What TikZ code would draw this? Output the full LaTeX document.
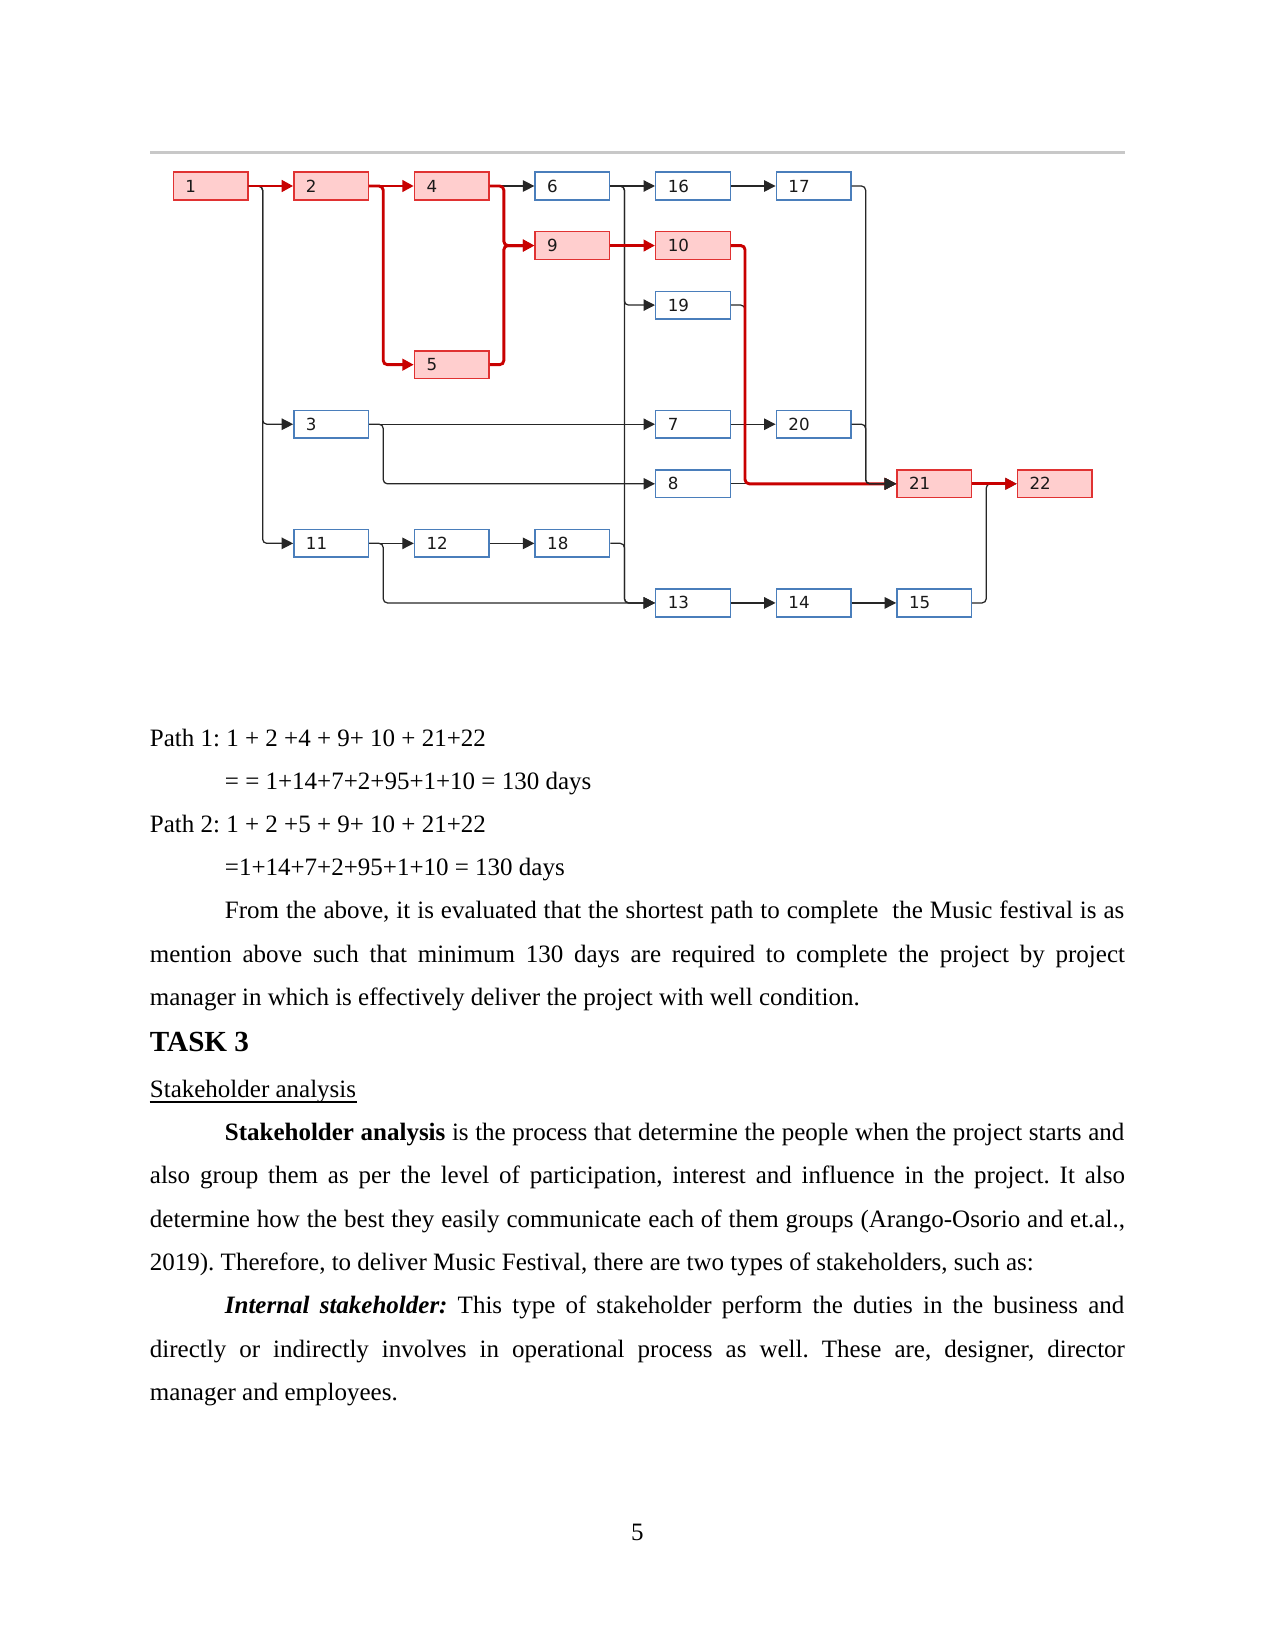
\documentclass[tikz,border=0pt]{standalone}
\usepackage{fontspec}
\setmainfont{Liberation Serif}
\newfontfamily\boxfont{DejaVu Sans}
\usetikzlibrary{arrows.meta,positioning}
\definecolor{critred}{RGB}{200,0,0}
\definecolor{critfill}{RGB}{255,206,206}
\definecolor{critedge}{RGB}{224,50,50}
\definecolor{taskblue}{RGB}{74,126,187}
\definecolor{rulegray}{RGB}{200,200,200}
\frenchspacing

\tikzset{
  task/.style={draw=taskblue, fill=white, line width=0.7pt,
    minimum width=35.8pt, minimum height=13.3pt, inner xsep=5.8pt, inner ysep=0pt,
    text width=24.2pt, align=left, text height=5.8pt, text depth=0pt,
    font=\boxfont\fontsize{8}{9}\selectfont, text=black!90},
  crit/.style={task, draw=critedge, fill=critfill},
  link/.style={color=black!85, line width=0.6pt, rounded corners=2pt,
    -{Triangle[length=5.5pt,width=5.5pt]}},
  critlink/.style={link, color=critred, line width=1.4pt},
  body/.style={anchor=base west, inner sep=0pt, font=\fontsize{12}{14}\selectfont}
}

\begin{document}
\begin{tikzpicture}[x=0.48pt,y=-0.48pt]
\useasboundingbox (0,0) rectangle (1275,1651);

\draw[rulegray, line width=1.5pt] (150,152.7) -- (1125,152.7);

% network
\foreach \i/\c/\r in {6/3/0,16/4/0,17/5/0,19/4/2,3/1/4,7/4/4,20/5/4,8/4/5,
                      11/1/6,12/2/6,18/3/6,13/4/7,14/5/7,15/6/7}
  \node[task] (t\i) at ({210.6+120.6*\c},{186+59.56*\r}) {\i};
\foreach \i/\c/\r in {1/0/0,2/1/0,4/2/0,9/3/1,10/4/1,5/2/3,21/6/5,22/7/5}
  \node[crit] (t\i) at ({210.6+120.6*\c},{186+59.56*\r}) {\i};

\foreach \a/\b in {4/6,6/16,16/17,3/7,7/20,8/21,11/12,12/18,13/14,14/15}
  \draw[link] (t\a) -- (t\b);
\foreach \a/\b in {1/3,1/11,6/19,6/13,18/13,3/8,11/13,19/21,15/22}
  \draw[link] (t\a.east) -- ++(14,0) |- (t\b.west);

% critical path
\foreach \a/\b in {1/2,2/4,9/10,21/22}
  \draw[critlink] (t\a) -- (t\b);
\foreach \a/\b in {2/5,4/9,5/9,10/21}
  \draw[critlink] (t\a.east) -- ++(14,0) |- (t\b.west);

\foreach \a/\b in {17/21,20/21}
  \draw[link] (t\a.east) -- ++(14,0) |- (t\b.west);

% text
\node[body] (p1) at (149.5,746.7) {Path 1: 1 + 2 +4 + 9+ 10 + 21+22};
\node[body] (p1sum) at (224.5,789.8) {= = 1+14+7+2+95+1+10 = 130 days};
\node[body] (p2) at (149.5,832.8) {Path 2: 1 + 2 +5 + 9+ 10 + 21+22};
\node[body] (p2sum) at (224.5,875.9) {=1+14+7+2+95+1+10 = 130 days};
\node[body] (c1) at (224.5,918.9) {\makebox[431.7pt][s]{From the above, it is evaluated that the shortest path to complete \ the Music festival is as}};
\node[body] (c2) at (149.5,962) {\makebox[468pt][s]{mention above such that minimum 130 days are required to complete the project by project}};
\node[body] (c3) at (149.5,1005) {manager in which is effectively deliver the project with well condition.};

\node[body, font=\fontsize{14}{16}\selectfont\bfseries] (task3) at (149.5,1051.7) {TASK 3};
\node[body] (sub) at (149.5,1097.3) {Stakeholder analysis};
\draw[line width=0.7pt] ([yshift=-2.2pt]sub.base west) -- ([yshift=-2.2pt]sub.base east);

\node[body] (s1) at (224.5,1140.5) {\makebox[431.7pt][s]{\textbf{Stakeholder analysis} is the process that determine the people when the project starts and}};
\node[body] (s2) at (149.5,1183.9) {\makebox[468pt][s]{also group them as per the level of participation, interest and influence in the project. It also}};
\node[body] (s3) at (149.5,1227.2) {\makebox[468pt][s]{determine how the best they easily communicate each of them groups (Arango-Osorio and et.al.,}};
\node[body] (s4) at (149.5,1270.6) {2019). Therefore, to deliver Music Festival, there are two types of stakeholders, such as:};
\node[body] (i1) at (224.5,1313.9) {\makebox[431.7pt][s]{\textbf{\textit{Internal stakeholder:}} This type of stakeholder perform the duties in the business and}};
\node[body] (i2) at (149.5,1357.3) {\makebox[468pt][s]{directly or indirectly involves in operational process as well. These are, designer, director}};
\node[body] (i3) at (149.5,1400.6) {manager and employees.};

\node[body, anchor=base] (pg) at (637.3,1540) {5};
\end{tikzpicture}
\end{document}
